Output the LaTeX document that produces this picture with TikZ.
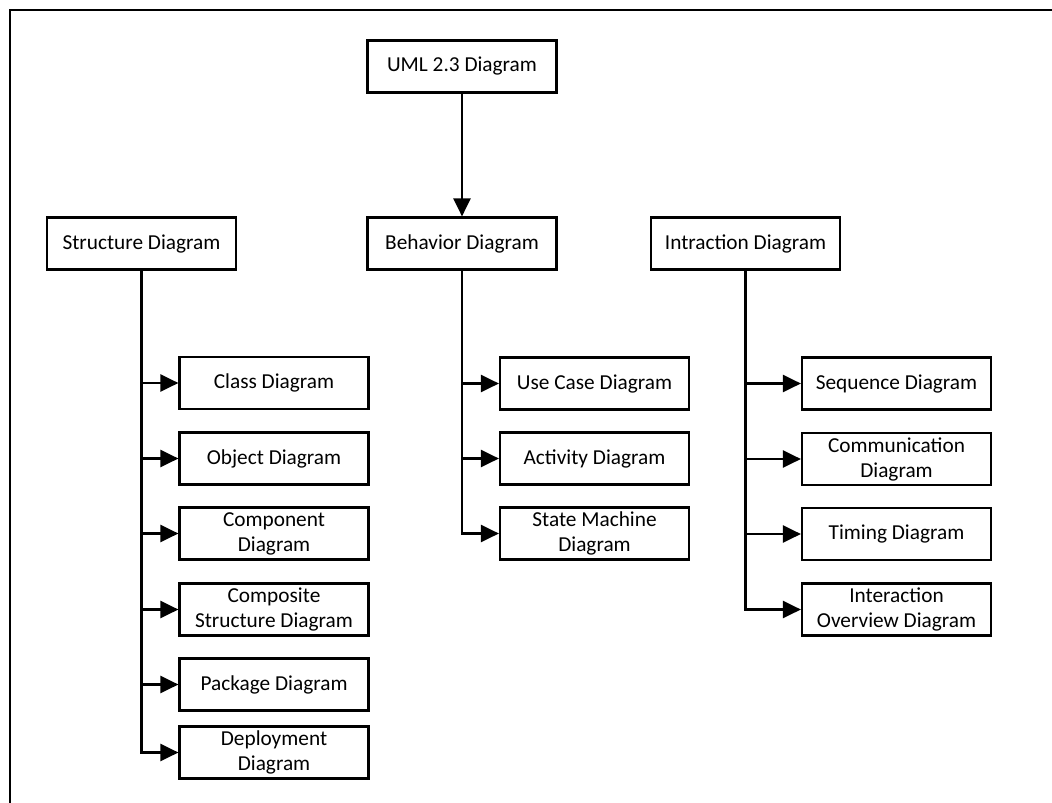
\documentclass[tikz,border=0pt]{standalone}
\usepackage{fontspec}
\setmainfont{Carlito}
\usetikzlibrary{arrows.meta}
\begin{document}
\begin{tikzpicture}[x=1pt,y=-1pt,
  box/.style={draw,line width=2.2pt,minimum width=189pt,minimum height=52pt,inner sep=0pt,align=center,font=\fontsize{21.3}{25}\selectfont},
  conn/.style={line width=2.4pt},
  arr/.style={conn,-{Triangle[length=18pt,width=17pt]}}]
\useasboundingbox (0,0) rectangle (1052,803);
\draw[line width=2.8pt] (10,803) -- (10,10) -- (1052,10);
\node[box] (uml) at (462,66.5) {UML 2.3 Diagram};
\node[box] (behav) at (462,243.5) {Behavior Diagram};
\node[box] (struct) at (141.5,243.5) {Structure Diagram};
\node[box] (intr) at (745.5,243.5) {Intraction Diagram};
% structure children
\node[box] (class) at (274,383) {Class Diagram};
\node[box] (object) at (274,458.5) {Object Diagram};
\node[box] (component) at (274,533.5) {Component\\Diagram};
\node[box] (composite) at (274,609.5) {Composite\\Structure Diagram};
\node[box] (package) at (274,684.5) {Package Diagram};
\node[box] (deploy) at (274,752.5) {Deployment\\Diagram};
% behavior children
\node[box] (usecase) at (594.5,383.5) {Use Case Diagram};
\node[box] (activity) at (594.5,458.5) {Activity Diagram};
\node[box] (state) at (594.5,533.5) {State Machine\\Diagram};
% interaction children
\node[box] (sequence) at (896.5,383.5) {Sequence Diagram};
\node[box] (comm) at (896.5,459) {Communication\\Diagram};
\node[box] (timing) at (896.5,534) {Timing Diagram};
\node[box] (overview) at (896.5,609.5) {Interaction\\Overview Diagram};
% connectors
\draw[arr] (uml) -- (behav);
\draw[arr] (struct.south) |- (deploy.west);
\foreach \n in {class,object,component,composite,package}
  \draw[arr] (struct.south |- \n.west) -- (\n.west);
\draw[arr] (behav.south) |- (state.west);
\foreach \n in {usecase,activity}
  \draw[arr] (behav.south |- \n.west) -- (\n.west);
\draw[arr] (intr.south) |- (overview.west);
\foreach \n in {sequence,comm,timing}
  \draw[arr] (intr.south |- \n.west) -- (\n.west);
\end{tikzpicture}
\end{document}
